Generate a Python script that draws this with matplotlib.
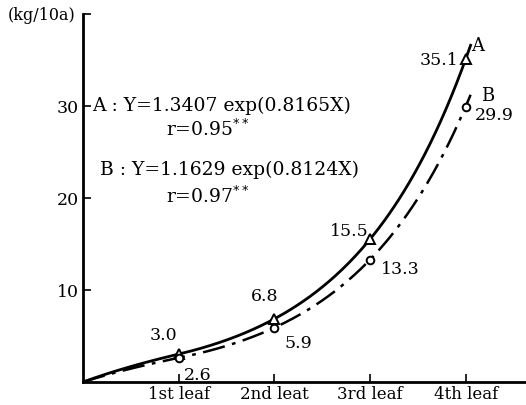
import numpy as np
import matplotlib
matplotlib.use("Agg")
import matplotlib.pyplot as plt

plt.rcParams['font.family'] = ['DejaVu Serif']

# stades foliaires
leaf_labels = ['1st leaf', '2nd leat', '3rd leaf', '4th leaf']
leaf_x = [1, 2, 3, 4]

# valeurs mesurées (kg/10a)
a_values = [3.0, 6.8, 15.5, 35.1]
b_values = [2.6, 5.9, 13.3, 29.9]

# coefficients des ajustements exponentiels
a_coef = (1.3407, 0.8165)
b_coef = (1.1629, 0.8124)

y_ticks = [10, 20, 30, 40]
y_ticklabels = ['10', '20', '30', '']


def fit_curve(coef, x):
    """Courbe Y = c*exp(kX), raccordée à l'origine pour X < 1"""
    c, k = coef
    y = c * np.exp(k * x)
    near = x < 1
    y[near] -= c * (1 - x[near]) ** 2
    return y


fig = plt.figure(figsize=(5.26, 4.06), dpi=100)
ax = fig.add_axes([83 / 526, 23 / 406, 443 / 526, 368 / 406])

xs = np.linspace(0, 4.05, 300)
ax.plot(xs, fit_curve(a_coef, xs), '-', color='black', linewidth=2)
ax.plot(xs, fit_curve(b_coef, xs), color='black', linewidth=1.8,
        linestyle=(0, (9, 3, 1.5, 3)))

ax.plot(leaf_x, a_values, '^', markersize=7, markerfacecolor='white',
        markeredgecolor='black', markeredgewidth=1.4)
ax.plot(leaf_x, b_values, 'o', markersize=5.5, markerfacecolor='white',
        markeredgecolor='black', markeredgewidth=1.4)

# étiquettes des valeurs
a_offsets = [(-15, 20), (-10, 24), (-21, 9), (-27, 0)]
b_offsets = [(19, -16), (24, -15), (30, -9), (28, -8)]
for x, v, off in zip(leaf_x, a_values, a_offsets):
    ax.annotate(f'{v:.1f}', (x, v), xytext=off, textcoords='offset pixels',
                ha='center', va='center', fontsize=12.5)
for x, v, off in zip(leaf_x, b_values, b_offsets):
    ax.annotate(f'{v:.1f}', (x, v), xytext=off, textcoords='offset pixels',
                ha='center', va='center', fontsize=12.5)
ax.annotate('A', (4, a_values[-1]), xytext=(12, 14), textcoords='offset pixels',
            ha='center', va='center', fontsize=13)
ax.annotate('B', (4, b_values[-1]), xytext=(22, 12), textcoords='offset pixels',
            ha='center', va='center', fontsize=13)

# équations
eq_size = 13.5
fig.text(92 / 526, 1 - 106 / 406, 'A : Y=1.3407 exp(0.8165X)',
         ha='left', va='center', fontsize=eq_size)
fig.text(166 / 526, 1 - 129 / 406, r'r=0.95$^{**}$',
         ha='left', va='center', fontsize=eq_size)
fig.text(100 / 526, 1 - 170 / 406, 'B : Y=1.1629 exp(0.8124X)',
         ha='left', va='center', fontsize=eq_size)
fig.text(166 / 526, 1 - 196 / 406, r'r=0.97$^{**}$',
         ha='left', va='center', fontsize=eq_size)
fig.text(8 / 526, 1 - 16 / 406, '(kg/10a)', ha='left', va='center',
         fontsize=11.5)

ax.set_xlim(0, 443 / 95.7)
ax.set_ylim(0, 40)
ax.set_xticks(leaf_x)
ax.set_xticklabels(leaf_labels, fontsize=12)
ax.set_yticks(y_ticks)
ax.set_yticklabels(y_ticklabels, fontsize=12.5)
ax.tick_params(axis='both', direction='in', length=6, width=1.2)
ax.tick_params(axis='x', pad=2)
ax.tick_params(axis='y', pad=3)

for side in ['top', 'right']:
    ax.spines[side].set_visible(False)
for side in ['left', 'bottom']:
    ax.spines[side].set_linewidth(2)

plt.savefig('out.png', dpi=100)
